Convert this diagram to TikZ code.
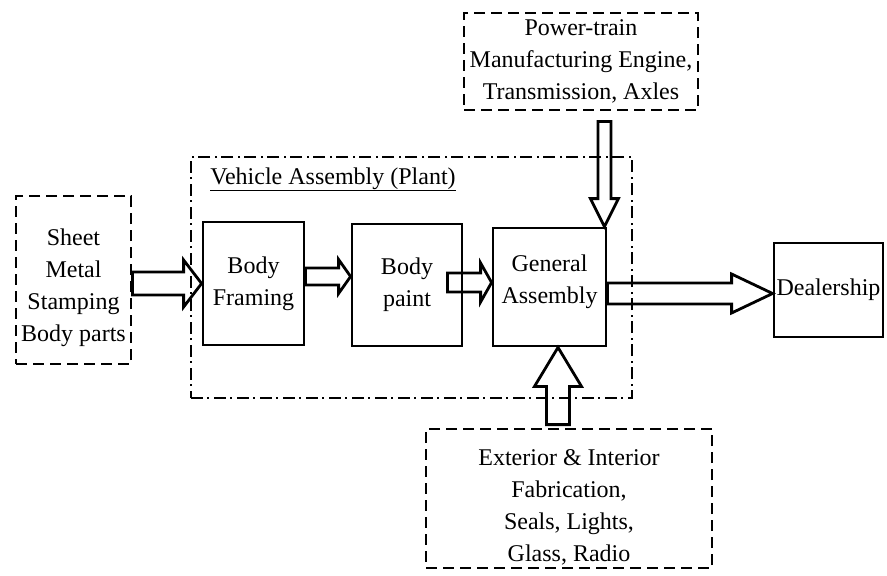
\documentclass[tikz,border=0pt]{standalone}
\usepackage{fontspec}
\setmainfont{Liberation Serif}
\usepackage{tikz}
\usetikzlibrary{calc}

% hollow block arrow: from, to, half shaft, half head, head length
\newcommand{\fatarrow}[5]{%
  \coordinate (fh) at ($(#2)!#5!(#1)$);
  \draw[blk] ($(#1)!#3!90:(#2)$) -- ($(fh)!#3!90:(#2)$) -- ($(fh)!#4!90:(#2)$)
    -- (#2) -- ($(fh)!#4!-90:(#2)$) -- ($(fh)!#3!-90:(#2)$)
    -- ($(#1)!#3!-90:(#2)$) -- cycle;}

\begin{document}
\begin{tikzpicture}[x=1pt,y=-1pt,line width=2.8pt,
          font=\fontsize{24}{32}\selectfont,
          bx/.style={draw,align=center,inner sep=2pt},
          dbx/.style={bx,dash pattern=on 11pt off 6pt},
          blk/.style={line width=2.8pt,line join=miter}]
  \useasboundingbox (0,0) rectangle (887,576);
  % plant frame
  \node[draw,dash pattern=on 12pt off 4pt on 2pt off 5pt,
        minimum width=441pt,minimum height=241pt] (plant) at (411.5,277.5) {};
  \node[anchor=base west,inner sep=0] (ttl) at (209,184)
        {\underline{Vehicle Assembly (Plant)}};
  % boxes
  \node[dbx,minimum width=115pt,minimum height=168pt] (sheet) at (73.5,280)
        {\rule{0pt}{32pt}Sheet\\Metal\\Stamping\\Body parts};
  \node[bx,minimum width=101pt,minimum height=123pt] (frame) at (253.5,283.5) {Body\\Framing};
  \node[bx,minimum width=110pt,minimum height=122pt] (paint) at (407,285) {Body\\paint};
  \node[bx,minimum width=113pt,minimum height=118pt] (ga) at (549.5,287)
        {General\\Assembly\rule[-15pt]{0pt}{0pt}};
  \node[bx,minimum width=109pt,minimum height=94pt] (dealer) at (828.5,290) {Dealership};
  \node[dbx,minimum width=234pt,minimum height=97pt] (power) at (581,61.5)
        {Power-train\\Manufacturing Engine,\\Transmission, Axles};
  \node[dbx,minimum width=286pt,minimum height=139pt] (ext) at (569,498.5)
        {\rule{0pt}{33pt}Exterior \& Interior\\Fabrication,\\Seals, Lights,\\Glass, Radio};
  % arrow ends
  \coordinate (s1) at (sheet.east |- frame.west);
  \coordinate (s2) at ([yshift=7pt]frame.east);
  \coordinate (t2) at (s2 -| paint.west);
  \coordinate (s3) at ([xshift=-16pt,yshift=2.5pt]paint.east);
  \coordinate (t3) at (s3 -| ga.west);
  \coordinate (s4) at ([yshift=-6.5pt]ga.east);
  \coordinate (t4) at (s4 -| dealer.west);
  \coordinate (t5) at ([xshift=-3pt]ga.north east);
  \coordinate (s5) at ($(power.south -| t5)+(0,10)$);
  \coordinate (t6) at ([xshift=8.5pt]ga.south);
  \coordinate (s6) at ($(ext.north -| t6)+(0,-3)$);
  % block arrows
  \fatarrow{s1}{frame.west}{11.5pt}{23.5pt}{18pt}
  \fatarrow{s2}{t2}{8.5pt}{17pt}{12pt}
  \fatarrow{s3}{t3}{9.5pt}{19.5pt}{11pt}
  \fatarrow{s4}{t4}{10.5pt}{19.5pt}{41pt}
  \fatarrow{s5}{t5}{6.5pt}{14pt}{28pt}
  \fatarrow{s6}{t6}{11.5pt}{23.5pt}{39pt}
\end{tikzpicture}
\end{document}
